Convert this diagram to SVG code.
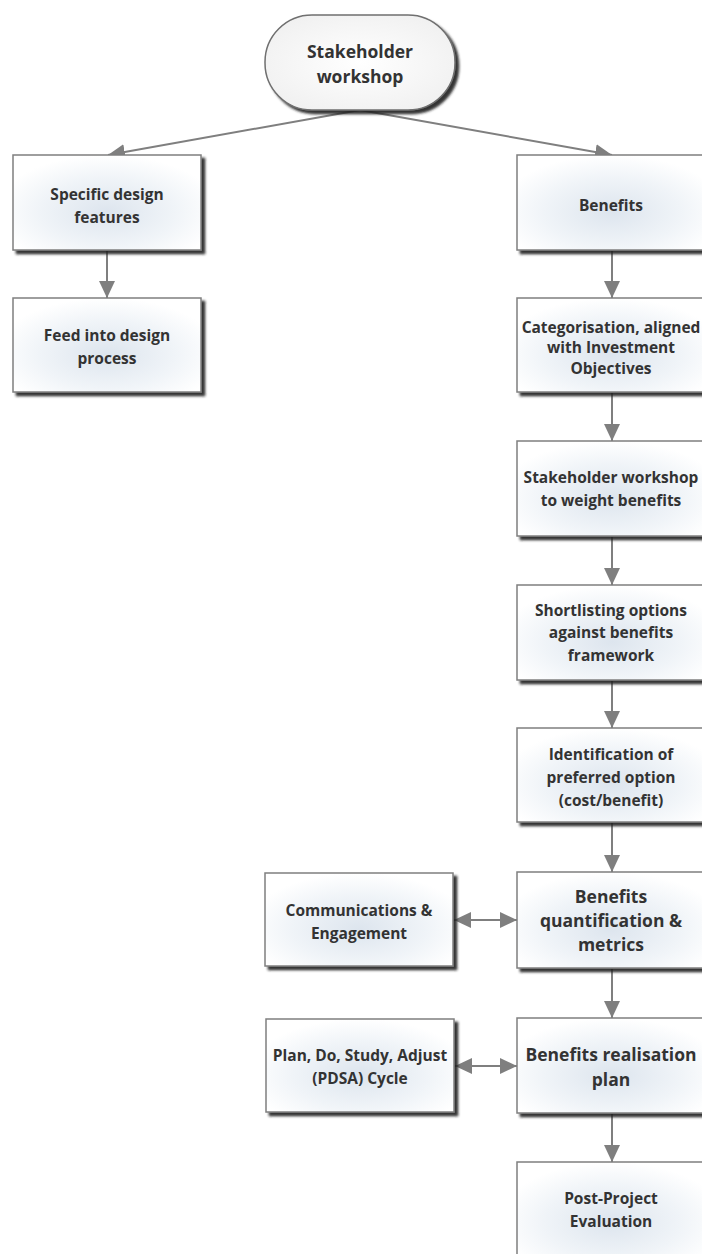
<svg xmlns="http://www.w3.org/2000/svg" width="702" height="1254" viewBox="0 0 702 1254">
<defs>
<radialGradient id="g" cx="0.5" cy="0.6" r="0.6">
<stop offset="0" stop-color="#dde5ee"/>
<stop offset="0.6" stop-color="#f0f4f8"/>
<stop offset="1" stop-color="#ffffff"/>
</radialGradient>
<radialGradient id="gp" cx="0.5" cy="0.5" r="0.6">
<stop offset="0" stop-color="#ffffff"/>
<stop offset="1" stop-color="#f0f0f0"/>
</radialGradient>
<filter id="sh" x="-10%" y="-10%" width="125%" height="130%">
<feDropShadow dx="3.5" dy="3.5" stdDeviation="1.3" flood-color="#1a1a1a" flood-opacity="0.9"/>
</filter>
<marker id="ah" markerUnits="userSpaceOnUse" markerWidth="20" markerHeight="20" refX="17" refY="8" orient="auto-start-reverse">
<path d="M0,0 L17,8 L0,16 Z" fill="#7f7f7f"/>
</marker>
</defs>
<style>
.box{fill:url(#g);stroke:#7f7f7f;stroke-width:1.5;filter:url(#sh)}
.pill{fill:url(#gp);stroke:#6f6f6f;stroke-width:1.5;filter:url(#sh)}
.t{font-family:"Open Sans","Noto Sans",sans-serif;font-weight:bold;font-size:15.5px;fill:#333;text-anchor:middle}
.tl{font-size:17.5px}
.c{stroke:#7f7f7f;stroke-width:2;fill:none}
</style>
<rect width="702" height="1254" fill="#fff"/>
<g id="connectors">
<line class="c" x1="360" y1="110" x2="108" y2="155" marker-end="url(#ah)"/>
<line class="c" x1="360" y1="110" x2="612" y2="155" marker-end="url(#ah)"/>
<line class="c" x1="107" y1="251" x2="107" y2="298" marker-end="url(#ah)"/>
<line class="c" x1="612" y1="251" x2="612" y2="298" marker-end="url(#ah)"/>
<line class="c" x1="612" y1="393" x2="612" y2="441" marker-end="url(#ah)"/>
<line class="c" x1="612" y1="537" x2="612" y2="585" marker-end="url(#ah)"/>
<line class="c" x1="612" y1="681" x2="612" y2="728" marker-end="url(#ah)"/>
<line class="c" x1="612" y1="823" x2="612" y2="872" marker-end="url(#ah)"/>
<line class="c" x1="612" y1="969" x2="612" y2="1018" marker-end="url(#ah)"/>
<line class="c" x1="612" y1="1114" x2="612" y2="1162" marker-end="url(#ah)"/>
<line class="c" x1="454" y1="920" x2="517" y2="920" marker-start="url(#ah)" marker-end="url(#ah)"/>
<line class="c" x1="455" y1="1066" x2="517" y2="1066" marker-start="url(#ah)" marker-end="url(#ah)"/>
</g>
<g id="n-start">
<rect class="pill" x="265" y="15" width="190" height="95" rx="47" ry="47"/>
<text class="t tl" x="360" y="58">Stakeholder</text>
<text class="t tl" x="360" y="83">workshop</text>
</g>
<g id="n-specific">
<rect class="box" x="13" y="155" width="188" height="95"/>
<text class="t" x="107" y="200">Specific design</text>
<text class="t" x="107" y="223">features</text>
</g>
<g id="n-feed">
<rect class="box" x="13" y="298" width="188" height="94"/>
<text class="t" x="107" y="341">Feed into design</text>
<text class="t" x="107" y="364">process</text>
</g>
<g id="n-benefits">
<rect class="box" x="517" y="155" width="190" height="95"/>
<text class="t" x="611" y="211">Benefits</text>
</g>
<g id="n-categorisation">
<rect class="box" x="517" y="298" width="190" height="94"/>
<text class="t" x="611" y="333">Categorisation, aligned</text>
<text class="t" x="611" y="353">with Investment</text>
<text class="t" x="611" y="374">Objectives</text>
</g>
<g id="n-weight">
<rect class="box" x="517" y="441" width="190" height="95"/>
<text class="t" x="611" y="483">Stakeholder workshop</text>
<text class="t" x="611" y="506">to weight benefits</text>
</g>
<g id="n-shortlisting">
<rect class="box" x="517" y="585" width="190" height="95"/>
<text class="t" x="611" y="616">Shortlisting options</text>
<text class="t" x="611" y="638">against benefits</text>
<text class="t" x="611" y="661">framework</text>
</g>
<g id="n-identification">
<rect class="box" x="517" y="728" width="190" height="94"/>
<text class="t" x="611" y="760">Identification of</text>
<text class="t" x="611" y="783">preferred option</text>
<text class="t" x="611" y="806">(cost/benefit)</text>
</g>
<g id="n-quantification">
<rect class="box" x="517" y="872" width="190" height="96"/>
<text class="t tl" x="611" y="903">Benefits</text>
<text class="t tl" x="611" y="927">quantification &amp;</text>
<text class="t tl" x="611" y="951">metrics</text>
</g>
<g id="n-communications">
<rect class="box" x="265" y="873" width="188" height="93"/>
<text class="t" x="359" y="916">Communications &amp;</text>
<text class="t" x="359" y="939">Engagement</text>
</g>
<g id="n-realisation">
<rect class="box" x="517" y="1018" width="190" height="95"/>
<text class="t tl" x="611" y="1061">Benefits realisation</text>
<text class="t tl" x="611" y="1086">plan</text>
</g>
<g id="n-pdsa">
<rect class="box" x="266" y="1019" width="188" height="93"/>
<text class="t" x="360" y="1061">Plan, Do, Study, Adjust</text>
<text class="t" x="360" y="1084">(PDSA) Cycle</text>
</g>
<g id="n-post">
<rect class="box" x="517" y="1162" width="190" height="100"/>
<text class="t" x="611" y="1204">Post-Project</text>
<text class="t" x="611" y="1227">Evaluation</text>
</g>
</svg>
